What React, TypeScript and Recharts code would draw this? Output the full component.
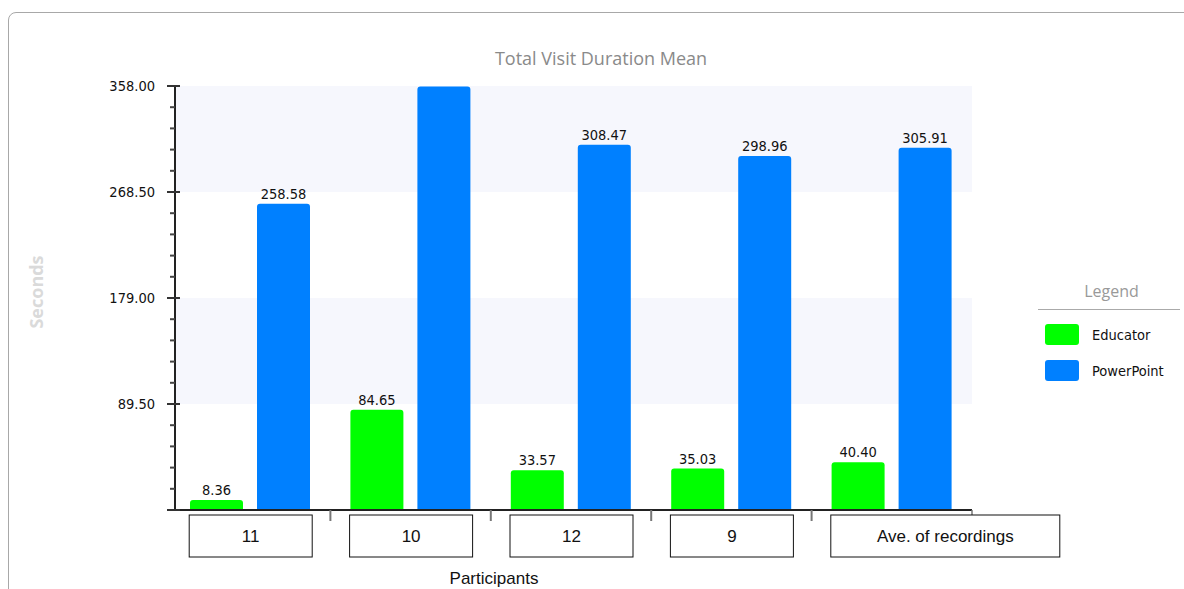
import React from 'react';
import { BarChart, Bar, XAxis, YAxis, ReferenceArea, LabelList } from 'recharts';

const categories = ['11', '10', '12', '9', 'Ave. of recordings'];
const educator = [8.36, 84.65, 33.57, 35.03, 40.4];
const powerPoint = [258.58, 357.63, 308.47, 298.96, 305.91];
const majorTicks = [0, 89.5, 179, 268.5, 358];
const shadedBands = [
  [268.5, 358],
  [89.5, 179],
];
const seriesNames = ['Educator', 'PowerPoint'];
const seriesColors = ['#00ff00', '#0080ff'];

const Y_MAX = 358;
const MINOR_STEP = 17.9;
const allTicks = Array.from({ length: 21 }, (_, i) => Math.round(i * MINOR_STEP * 100) / 100);

const data = categories.map((c, i) => ({ cat: c, educator: educator[i], powerPoint: powerPoint[i] }));

const W = 1184;
const H = 589;
const X_AXIS_H = 30;
const MARGIN = { top: 86, right: 212, bottom: 79 - X_AXIS_H, left: 0 };
const Y_AXIS_W = 170;
const AXIS_SHIFT = 5;
const PLOT_W = W - MARGIN.right - Y_AXIS_W;
const PLOT_H = H - MARGIN.top - MARGIN.bottom - X_AXIS_H;
const BAND = PLOT_W / categories.length;

const numFont = '"DejaVu Sans", sans-serif';
const numStyle = { fontStretch: 'condensed' as const };

const YTick = (props: any) => {
  const { y, payload } = props;
  const x = props.x + AXIS_SHIFT;
  const isMajor = majorTicks.some((t) => Math.abs(t - payload.value) < 0.01);
  if (isMajor) {
    return (
      <g>
        {payload.value === 0 && <line x1={x} x2={x} y1={y + 1} y2={y - PLOT_H} stroke="#222" strokeWidth={2} />}
        <line x1={x - 8} x2={x + 5} y1={y} y2={y} stroke="#333" strokeWidth={2} />
        {payload.value !== 0 && (
          <text x={x - 20} y={y} dy={5} textAnchor="end" fontFamily={numFont} style={numStyle} fontSize={14.5} fill="#111">
            {payload.value.toFixed(2)}
          </text>
        )}
      </g>
    );
  }
  return <line x1={x - 5} x2={x} y1={y} y2={y} stroke="#444" strokeWidth={2} />;
};

const XTick = (props: any) => {
  const { x, y, payload, index } = props;
  const label: string = payload.value;
  const bw = Math.max(123, label.length * 12 + 13);
  const left = x - 61;
  const bandLeft = x - BAND / 2;
  return (
    <g>
      {index === 0 && (
        <line x1={bandLeft + AXIS_SHIFT} x2={bandLeft + PLOT_W} y1={y} y2={y} stroke="#222" strokeWidth={2} />
      )}
      {index > 0 && <line x1={bandLeft} x2={bandLeft} y1={y} y2={y + 11} stroke="#777" strokeWidth={2} />}
      {index === categories.length - 1 && (
        <line x1={x + BAND / 2} x2={x + BAND / 2} y1={y} y2={y + 5} stroke="#777" strokeWidth={1.5} />
      )}
      <rect x={left} y={y + 5} width={bw} height={42} fill="#fff" stroke="#111" strokeWidth={1} />
      <text x={left + bw / 2} y={y + 26} dy={6} textAnchor="middle" fontFamily='"Liberation Sans", Arial, sans-serif' fontSize={17} fill="#111">
        {label}
      </text>
    </g>
  );
};

const BandShape = (p: any) => (
  <rect x={p.x + AXIS_SHIFT + 1} y={p.y} width={Math.max(0, p.width - AXIS_SHIFT - 1)} height={p.height} fill="#f6f7fd" />
);

const barLabel = (v: any) => (Number(v) >= Y_MAX * 0.99 ? '' : Number(v).toFixed(2));

const LegendBox = () => (
  <div style={{ position: 'absolute', left: 1038, top: 280, width: 145 }}>
    <div style={{ textAlign: 'center', fontFamily: '"Open Sans", sans-serif', fontSize: 16, color: '#999', paddingLeft: 2, height: 24 }}>
      Legend
    </div>
    <div style={{ borderTop: '1.5px solid #aaa', marginTop: 5, width: 142 }} />
    {seriesNames.map((n, i) => (
      <div key={n} style={{ display: 'flex', alignItems: 'center', marginTop: i === 0 ? 14 : 15 }}>
        <div style={{ width: 34, height: 21, borderRadius: 3, background: seriesColors[i], marginLeft: 7 }} />
        <span style={{ marginLeft: 13, fontSize: 14.5, color: '#111', fontFamily: numFont, fontStretch: 'condensed' }}>{n}</span>
      </div>
    ))}
  </div>
);

export default function App() {
  return (
    <div style={{ position: 'absolute', left: 0, top: 0, width: W, height: H, overflow: 'hidden', background: '#fff' }}>
      <div
        style={{
          position: 'absolute',
          left: 8,
          top: 12,
          width: 1300,
          height: 700,
          border: '1.5px solid #a8a8a8',
          borderRadius: 8,
        }}
      />
      <BarChart
        width={W}
        height={H}
        data={data}
        margin={MARGIN}
        barCategoryGap={20}
        barGap={14}
        style={{ position: 'absolute', left: 0, top: 0 }}
      >
        {shadedBands.map(([a, b]) => (
          <ReferenceArea key={a} y1={a} y2={b} shape={<BandShape />} />
        ))}
        <XAxis
          dataKey="cat"
          height={X_AXIS_H}
          tickLine={false}
          tickSize={0}
          tickMargin={0}
          axisLine={false}
          tick={<XTick />}
          interval={0}
        />
        <YAxis
          width={Y_AXIS_W}
          domain={[0, Y_MAX]}
          ticks={allTicks}
          interval={0}
          tickLine={false}
          tickSize={0}
          tickMargin={0}
          allowDataOverflow
          axisLine={false}
          tick={<YTick />}
        />
        <Bar dataKey="educator" name="Educator" fill={seriesColors[0]} radius={[3, 3, 0, 0]} isAnimationActive={false}>
          <LabelList dataKey="educator" position="top" offset={5} formatter={barLabel} fontFamily={numFont} style={numStyle} fontSize={14.5} fill="#111" />
        </Bar>
        <Bar dataKey="powerPoint" name="PowerPoint" fill={seriesColors[1]} radius={[3, 3, 0, 0]} isAnimationActive={false}>
          <LabelList dataKey="powerPoint" position="top" offset={5} formatter={barLabel} fontFamily={numFont} style={numStyle} fontSize={14.5} fill="#111" />
        </Bar>
      </BarChart>
      <LegendBox />
      <div
        style={{
          position: 'absolute',
          left: 401,
          top: 46,
          width: 400,
          textAlign: 'center',
          fontFamily: '"Open Sans", sans-serif',
          fontSize: 18,
          color: '#8a8a8a',
        }}
      >
        Total Visit Duration Mean
      </div>
      <div
        style={{
          position: 'absolute',
          left: 36,
          top: 292,
          transform: 'translate(-50%, -50%) rotate(-90deg)',
          fontFamily: '"Open Sans", sans-serif',
          fontWeight: 700,
          fontSize: 18,
          color: '#dadada',
          whiteSpace: 'nowrap',
        }}
      >
        Seconds
      </div>
      <div
        style={{
          position: 'absolute',
          left: 394,
          top: 569,
          width: 200,
          textAlign: 'center',
          fontFamily: '"Liberation Sans", Arial, sans-serif',
          fontSize: 17,
          color: '#111',
        }}
      >
        Participants
      </div>
    </div>
  );
}
